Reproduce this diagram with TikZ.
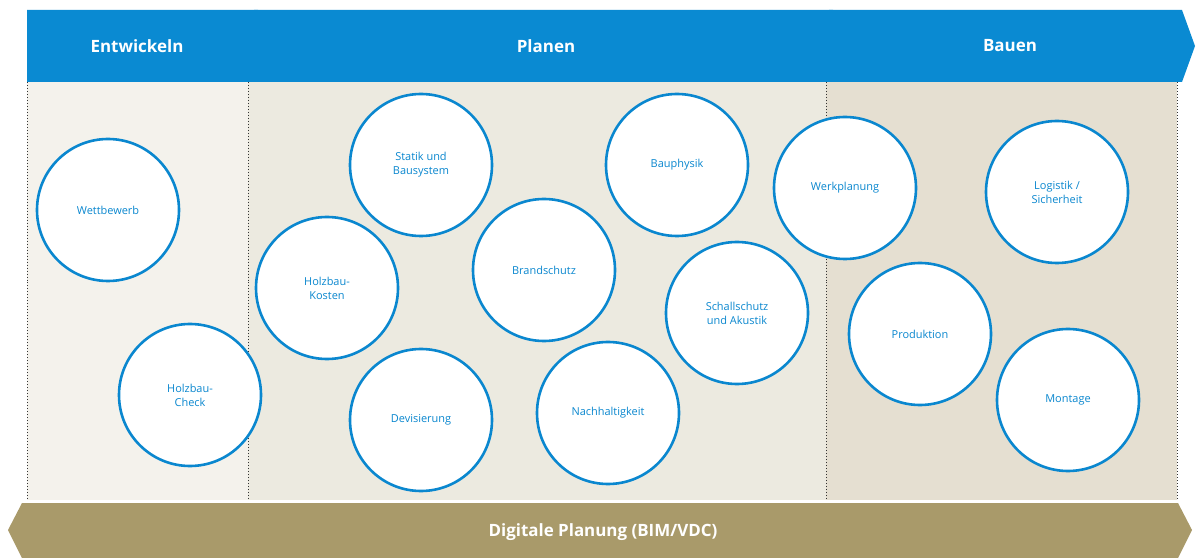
\documentclass[tikz,border=0pt]{standalone}
\usepackage{fontspec}
\setmainfont{Open Sans}
\begin{document}
\begin{tikzpicture}[x=1bp,y=-1bp,
  circ/.style={circle,draw=cblue,line width=2.6bp,fill=white,minimum size=142bp,inner sep=0pt,align=center,text=cblue,font=\fontsize{11}{14}\selectfont},
  head/.style={text=white,font=\fontsize{17}{20}\selectfont\bfseries},
  dots/.style={dotted,line width=1bp,black!80}]
\definecolor{cblue}{HTML}{0A87CF}
\definecolor{hblue}{HTML}{0A8AD2}
\definecolor{bgA}{HTML}{F4F2EC}
\definecolor{bgB}{HTML}{ECEAE0}
\definecolor{bgC}{HTML}{E5DFD1}
\definecolor{khaki}{HTML}{A99A6A}
\useasboundingbox (0,0) rectangle (1200,558);
\fill[bgA] (27,82) rectangle (248,500);
\fill[bgB] (248,82) rectangle (826,500);
\fill[bgC] (826,82) rectangle (1177,500);
\draw[dots] (27,82)--(27,500) (248,82)--(248,500) (826,82)--(826,500) (1177,82)--(1177,500);
\fill[hblue] (27,10)--(258,10)--(270,46)--(258,82)--(27,82)--cycle;
\fill[hblue] (254,10)--(833,10)--(845,46)--(833,82)--(254,82)--(266,46)--cycle;
\fill[hblue] (829,10)--(1182,10)--(1195,46)--(1182,82)--(829,82)--(841,46)--cycle;
\node[head] (h1) at (137,46) {Entwickeln};
\node[head] (h2) at (546,46) {Planen};
\node[head] (h3) at (1010,46) {Bauen};
\fill[khaki] (8,530)--(22,503)--(1178,503)--(1192,530)--(1178,558)--(22,558)--cycle;
\node[head,font=\fontsize{17}{20}\selectfont\bfseries] (dp) at (603,532) {Digitale Planung (BIM/VDC)};
\node[circ] (c1) at (108,210) {Wettbewerb};
\node[circ] (c2) at (190,395) {Holzbau-\\Check};
\node[circ] (c3) at (421,165) {Statik und\\Bausystem};
\node[circ] (c4) at (677,165) {Bauphysik};
\node[circ] (c5) at (845,188) {Werkplanung};
\node[circ] (c6) at (1057,192) {Logistik /\\Sicherheit};
\node[circ] (c7) at (327,288) {Holzbau-\\Kosten};
\node[circ] (c8) at (544,270) {Brandschutz};
\node[circ] (c9) at (737,313) {Schallschutz\\und Akustik};
\node[circ] (c10) at (920,334) {Produktion};
\node[circ] (c11) at (421,420) {Devisierung};
\node[circ] (c12) at (608,413) {Nachhaltigkeit};
\node[circ] (c13) at (1068,400) {Montage};
\end{tikzpicture}
\end{document}
